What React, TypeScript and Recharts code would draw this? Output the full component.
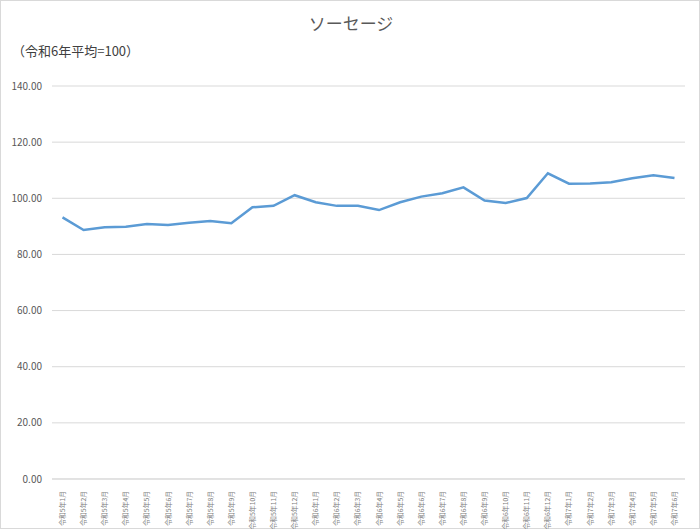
import { LineChart, Line, XAxis, YAxis, CartesianGrid } from 'recharts'

// 月（令和5年1月〜令和7年6月）
const months = [
  '令和5年1月', '令和5年2月', '令和5年3月', '令和5年4月', '令和5年5月', '令和5年6月',
  '令和5年7月', '令和5年8月', '令和5年9月', '令和5年10月', '令和5年11月', '令和5年12月',
  '令和6年1月', '令和6年2月', '令和6年3月', '令和6年4月', '令和6年5月', '令和6年6月',
  '令和6年7月', '令和6年8月', '令和6年9月', '令和6年10月', '令和6年11月', '令和6年12月',
  '令和7年1月', '令和7年2月', '令和7年3月', '令和7年4月', '令和7年5月', '令和7年6月',
]

// 指数（令和6年平均=100）
const indexValues = [
  93.2, 88.7, 89.7, 89.9, 90.8, 90.5,
  91.3, 91.9, 91.1, 96.8, 97.3, 101.1,
  98.6, 97.3, 97.3, 95.8, 98.6, 100.6,
  101.8, 103.9, 99.2, 98.3, 100.1, 108.9,
  105.2, 105.3, 105.7, 107.1, 108.2, 107.2,
]

const yTicks = [0, 20, 40, 60, 80, 100, 120, 140]

const data = months.map((m, i) => ({ month: m, value: indexValues[i] }))

const FONT = '"Noto Sans CJK JP", "Noto Sans", sans-serif'

function MonthTick({ x, y, payload }: { x?: number; y?: number; payload?: { value: string } }) {
  return (
    <text
      x={0}
      y={0}
      transform={`translate(${(x ?? 0) + 2.5},${(y ?? 0) + 4}) rotate(-90)`}
      textAnchor="end"
      fontSize={6.8}
      fill="#808080"
      fontFamily={FONT}
    >
      {payload?.value}
    </text>
  )
}

export default function App() {
  return (
    <div style={{
      position: 'absolute',
      left: 0,
      top: 0,
      width: 700,
      height: 529,
      boxSizing: 'border-box',
      border: '1px solid #d9d9d9',
      background: '#fff',
      fontFamily: FONT,
    }}>
      <div style={{
        position: 'absolute',
        top: 9,
        left: 0,
        width: 700,
        textAlign: 'center',
        fontSize: 17,
        color: '#595959',
      }}>
        ソーセージ
      </div>
      <div style={{
        position: 'absolute',
        top: 40,
        left: 11,
        fontSize: 13,
        color: '#404040',
      }}>
        （令和6年平均=100）
      </div>
      <div style={{ position: 'absolute', left: -1, top: -1 }}>
        <LineChart
          width={700}
          height={529}
          data={data}
          margin={{ top: 86, right: 15, bottom: 0, left: 0 }}
        >
          <CartesianGrid vertical={false} stroke="#d9d9d9" strokeWidth={1} />
          <XAxis
            dataKey="month"
            interval={0}
            tickLine={false}
            axisLine={{ stroke: '#d9d9d9' }}
            tick={<MonthTick />}
            height={50}
            padding={{ left: 10.5, right: 10.5 }}
          />
          <YAxis
            domain={[0, 140]}
            ticks={yTicks}
            width={52}
            axisLine={false}
            tickLine={false}
            tickMargin={4}
            tickFormatter={(v: number) => v.toFixed(2)}
            tick={{ fontSize: 10, fill: '#595959', fontFamily: FONT }}
          />
          <Line
            type="linear"
            dataKey="value"
            stroke="#5b9bd5"
            strokeWidth={2.5}
            dot={false}
            isAnimationActive={false}
          />
        </LineChart>
      </div>
    </div>
  )
}
